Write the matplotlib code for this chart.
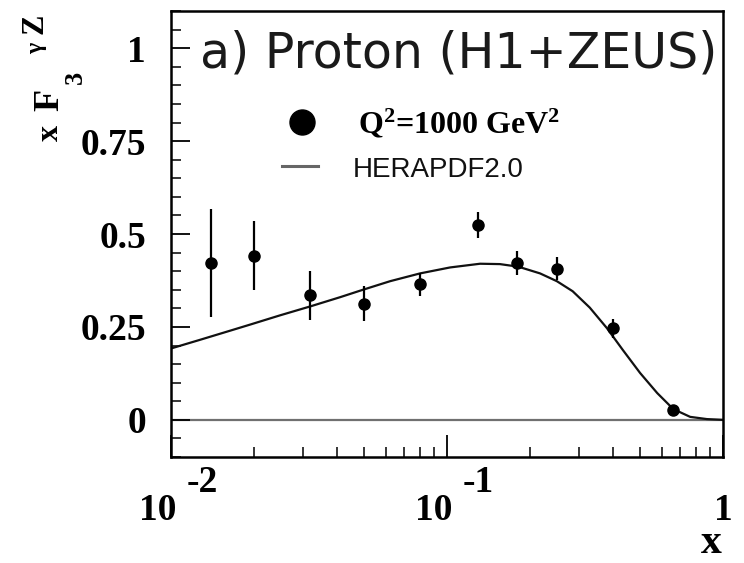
import matplotlib
matplotlib.use("Agg")
import matplotlib.pyplot as plt
from matplotlib.ticker import FixedLocator, MultipleLocator, LogLocator, NullFormatter
import matplotlib.transforms as mtransforms

# Measured xF3^{gammaZ} at Q^2 = 1000 GeV^2
x_data = [0.014, 0.020, 0.032, 0.050, 0.080, 0.13, 0.18, 0.25, 0.40, 0.66]
y_data = [0.422, 0.442, 0.335, 0.313, 0.365, 0.523, 0.422, 0.407, 0.246, 0.027]
y_err = [0.145, 0.094, 0.066, 0.046, 0.031, 0.035, 0.033, 0.031, 0.026, 0.010]

# HERAPDF2.0 prediction
x_pdf = [0.0100, 0.0127, 0.0164, 0.0193, 0.0248, 0.0319, 0.0410, 0.0496,
         0.0622, 0.0799, 0.1026, 0.1318, 0.1555, 0.1814, 0.2173, 0.2501,
         0.2853, 0.3290, 0.3794, 0.4335, 0.5008, 0.5777, 0.6603, 0.7603,
         0.8744, 1.0]
y_pdf = [0.192, 0.215, 0.240, 0.256, 0.281, 0.305, 0.330, 0.350,
         0.373, 0.394, 0.410, 0.420, 0.419, 0.412, 0.394, 0.373,
         0.346, 0.302, 0.247, 0.188, 0.126, 0.072, 0.029, 0.008,
         0.002, 0.0]

y_ticks = [0, 0.25, 0.5, 0.75, 1]
y_ticklabels = ["0", "0.25", "0.5", "0.75", "1"]
x_ticks = [0.01, 0.1, 1.0]

title = "a) Proton (H1+ZEUS)"
label_data = r"Q$^{\mathbf{2}}$=1000 GeV$^{\mathbf{2}}$"
label_pdf = "HERAPDF2.0"

W, H = 744, 563
plt.rcParams["mathtext.fontset"] = "custom"
plt.rcParams["mathtext.rm"] = "Liberation Serif:bold"
plt.rcParams["mathtext.bf"] = "Liberation Serif:bold"
plt.rcParams["mathtext.it"] = "Liberation Serif:bold"

fig = plt.figure(figsize=(W / 100, H / 100), dpi=100)
L, R, T, B = 171, 723, 11, 457
ax = fig.add_axes([L / W, 1 - B / H, (R - L) / W, (B - T) / H])

ax.set_xscale("log")
ax.set_xlim(0.01, 1.0)
ax.set_ylim(-0.1, 1.1)

ax.axhline(0, color="#707070", lw=1.6, zorder=1)
ax.plot(x_pdf, y_pdf, color="#111111", lw=1.6, zorder=2,
        solid_joinstyle="round")
ax.errorbar(x_data, y_data, yerr=y_err, fmt="o", color="black", ms=8,
            elinewidth=1.6, capsize=0, zorder=3)

for s in ax.spines.values():
    s.set_linewidth(1.8)

# y axis
ax.yaxis.set_major_locator(FixedLocator(y_ticks))
ax.set_yticklabels(y_ticklabels)
ax.yaxis.set_minor_locator(MultipleLocator(0.05))
ax.tick_params(axis="y", which="major", direction="in", length=14, width=1.3,
               right=False, pad=18, labelsize=27)
ax.tick_params(axis="y", which="minor", direction="in", length=7, width=1.1,
               right=False)
for lab in ax.get_yticklabels():
    lab.set_fontfamily("Liberation Serif")
    lab.set_fontweight("bold")

# x axis
ax.xaxis.set_major_locator(FixedLocator(x_ticks))
ax.xaxis.set_minor_locator(LogLocator(base=10, subs=range(2, 10)))
ax.xaxis.set_major_formatter(NullFormatter())
ax.xaxis.set_minor_formatter(NullFormatter())
ax.tick_params(axis="x", which="major", direction="in", length=16, width=1.3,
               top=False)
ax.tick_params(axis="x", which="minor", direction="in", length=7, width=1.1,
               top=False)

tfont = dict(family="Liberation Serif", weight="bold", size=27)
xtr = ax.get_xaxis_transform()
base_y = (B - 520) / (B - T)
exp_y = (B - 492) / (B - T)
for xt, ex in [(0.01, "-2"), (0.1, "-1")]:
    t1 = mtransforms.offset_copy(xtr, fig=fig, x=5, y=0, units="dots")
    ax.text(xt, base_y, "10", transform=t1, ha="right", va="baseline",
            clip_on=False, **tfont)
    t2 = mtransforms.offset_copy(xtr, fig=fig, x=16, y=0, units="dots")
    ax.text(xt, exp_y, ex, transform=t2, ha="left", va="baseline",
            clip_on=False, **tfont)
ax.text(1.0, base_y, "1", transform=xtr, ha="center", va="baseline",
        clip_on=False, **tfont)

# axis titles
fig.text(722 / W, 1 - 553 / H, "x", ha="right", va="baseline",
         family="Liberation Serif", weight="bold", size=30)

def ypiece(px, py, s, size):
    fig.text(px / W, 1 - py / H, s, rotation=90, rotation_mode="anchor",
             ha="left", va="baseline", family="Liberation Serif",
             weight="bold", size=size)

ypiece(58, 141, "x", 23)
ypiece(58, 111, "F", 26)
ypiece(82, 84, "3", 19)
ypiece(42, 54, "\u03b3", 17)
ypiece(42, 34, "Z", 22)

# panel title
ax.text((200 - L) / (R - L), (B - 67) / (B - T), title, transform=ax.transAxes,
        ha="left", va="baseline", family="DejaVu Sans", size=35.3,
        color="#1a1a1a")

# legend
ax.plot([(302 - L) / (R - L)], [(B - 122) / (B - T)], "o", color="black",
        ms=18, transform=ax.transAxes, clip_on=False)
ax.text((358 - L) / (R - L), (B - 133) / (B - T), label_data,
        transform=ax.transAxes, ha="left", va="baseline",
        family="Liberation Serif", weight="bold", size=23)
ax.plot([(282 - L) / (R - L), (318 - L) / (R - L)],
        [(B - 166) / (B - T)] * 2, color="#666666", lw=2.2,
        transform=ax.transAxes)
ax.text((353 - L) / (R - L), (B - 177) / (B - T), label_pdf,
        transform=ax.transAxes, ha="left", va="baseline",
        family="Liberation Sans", size=20, color="#111111")

fig.savefig("out.png", dpi=100, facecolor="white")
